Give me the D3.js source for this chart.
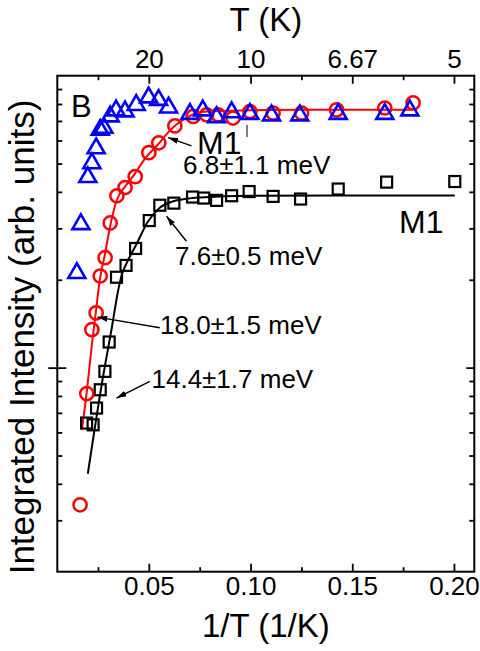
<!DOCTYPE html>
<html><head><meta charset="utf-8">
<script src="https://cdn.jsdelivr.net/npm/d3@7"></script>
<style>
html,body{margin:0;padding:0;background:#fff;}
svg text{font-family:"Liberation Sans",Arial,Helvetica,sans-serif;fill:#000;}
</style></head>
<body>
<svg id="chart" width="480" height="651"></svg>
<script>
// ---- data (x = 1/T in 1/K, y = integrated intensity, arb. units) ----
const blueX = [0.0146,0.0166,0.0200,0.0220,0.0241,0.0261,0.0279,0.0310,0.0339,0.0383,0.0438,0.0499,0.0548,0.0597,0.0702,0.0765,0.0833,0.0907,0.0997,0.1103,0.1242,0.1431,0.1660,0.1783];
const blueY = [21.5,31.6,45.8,51.1,57.5,66.5,67.6,73.9,77.5,76.9,80.9,85.9,84.2,79.3,75.4,77.5,73.5,76.4,75.4,74.5,74.5,75.4,75.4,77.5];
const redX = [0.0162,0.0195,0.0220,0.0241,0.0261,0.0285,0.0310,0.0343,0.0383,0.0433,0.0500,0.0549,0.0628,0.0718,0.0784,0.0841,0.0914,0.0997,0.1111,0.1251,0.1423,0.1660,0.1799];
const redY = [3.39,8.15,13.5,15.4,20.6,23.8,31.3,38.8,41.4,45.1,54.5,58.9,67.3,72.5,73.5,73.5,71.6,75.4,74.5,74.5,76.4,77.5,80.7];
const blackX = [0.0194,0.0226,0.0243,0.0261,0.0284,0.0305,0.0341,0.0388,0.0435,0.0502,0.0554,0.0623,0.0715,0.0770,0.0833,0.0907,0.0993,0.1111,0.1246,0.1431,0.1669,0.2004];
const blackY = [6.46,6.37,7.27,8.40,9.71,12.24,20.4,22.4,25.6,31.9,36.0,36.6,38.4,38.1,37.4,38.8,40.1,38.6,37.8,40.9,43.2,43.4];
const redFitX = [0.0171,0.0195,0.0220,0.0239,0.0259,0.0284,0.0308,0.0343,0.0382,0.0431,0.0480,0.0544,0.0593,0.0628,0.0677,0.0726,0.0800,0.0997,0.1243,0.1798];
const redFitY = [6.13,8.27,11.98,15.4,20.0,24.4,30.1,37.6,41.6,46.1,51.9,58.0,63.7,67.4,71.2,74.1,75.5,76.1,76.4,76.4];
const blackFitX = [0.0200,0.0279,0.0318,0.0348,0.0367,0.0392,0.0436,0.0495,0.0554,0.0613,0.0682,0.0751,0.0997,0.2004];
const blackFitY = [4.33,9.68,13.7,18.2,20.8,22.9,26.2,31.6,35.3,37.0,37.9,38.3,38.8,38.9];
const bottomTicks = [0.05,0.10,0.15,0.20];
const bottomLabels = ["0.05","0.10","0.15","0.20"];
const topLabels = ["20","10","6.67","5"];
const minorXTicks = [0.025,0.075,0.125,0.175];
const yMajorTicks = [10];
const yMinorTicks = [3,4,5,6,7,8,9,20,30,40,50,60,70,80,90];
// annotation arrows: [tailX, tailY, headX, headY]
const arrows = [
  [0.0710,57.5,0.0595,61.4],
  [0.0685,27.1,0.0587,33.0],
  [0.0554,13.7,0.0247,14.9],
  [0.0505,8.97,0.0341,7.87]
];

const svg = d3.select("#chart");
const L=57.3, R=474.3, T=75.7, B=571.7;
const x = d3.scaleLinear().domain([0.005,0.21]).range([L,R]);
const y = d3.scaleLog().domain([2,100]).range([B,T]);

// frame
svg.append("rect").attr("x",L).attr("y",T).attr("width",R-L).attr("height",B-T)
  .attr("fill","none").attr("stroke","#000").attr("stroke-width",2);

function styleAxis(g){ g.select(".domain").remove(); g.selectAll(".tick line").attr("stroke","#000").attr("stroke-width",1.8); g.selectAll(".tick text").attr("font-size",26).attr("fill","#000"); }

// bottom
svg.append("g").attr("transform",`translate(0,${B})`)
  .call(d3.axisBottom(x).tickValues(bottomTicks).tickSize(-8).tickPadding(5).tickFormat((d,i)=>bottomLabels[i]))
  .call(styleAxis).call(g=>g.selectAll(".tick text").attr("dy","0.71em").attr("y",5));
svg.append("g").attr("transform",`translate(0,${B})`)
  .call(d3.axisBottom(x).tickValues(minorXTicks).tickSize(-4.5).tickFormat(""))
  .call(styleAxis);
// top
svg.append("g").attr("transform",`translate(0,${T})`)
  .call(d3.axisTop(x).tickValues(bottomTicks).tickSize(-8).tickPadding(8).tickFormat((d,i)=>topLabels[i]))
  .call(styleAxis);
svg.append("g").attr("transform",`translate(0,${T})`)
  .call(d3.axisTop(x).tickValues(minorXTicks).tickSize(-4.5).tickFormat(""))
  .call(styleAxis);
// left
svg.append("g").attr("transform",`translate(${L},0)`)
  .call(d3.axisLeft(y).tickValues(yMinorTicks).tickSize(-5).tickFormat("")).call(styleAxis);
svg.append("g").attr("transform",`translate(${L},0)`)
  .call(d3.axisLeft(y).tickValues(yMajorTicks).tickSize(-9).tickFormat("")).call(styleAxis);
svg.append("g").attr("transform",`translate(${L},0)`)
  .call(d3.axisLeft(y).tickValues(yMajorTicks).tickSize(9).tickFormat("")).call(styleAxis);
// right
svg.append("g").attr("transform",`translate(${R},0)`)
  .call(d3.axisRight(y).tickValues(yMinorTicks).tickSize(-5).tickFormat("")).call(styleAxis);
svg.append("g").attr("transform",`translate(${R},0)`)
  .call(d3.axisRight(y).tickValues(yMajorTicks).tickSize(-8).tickFormat("")).call(styleAxis);

// axis titles
svg.append("text").attr("x",(L+R)/2).attr("y",31).attr("text-anchor","middle").attr("font-size",33).text("T (K)");
svg.append("text").attr("x",(L+R)/2).attr("y",637).attr("text-anchor","middle").attr("font-size",33).text("1/T (1/K)");
svg.append("text").attr("transform",`translate(33.5,337) rotate(-90)`).attr("text-anchor","middle").attr("font-size",35).text("Integrated Intensity (arb. units)");

// fit lines
const line = d3.line().x(d=>x(d[0])).y(d=>y(d[1])).curve(d3.curveMonotoneX);
svg.append("path").datum(redFitX.map((v,i)=>[v,redFitY[i]])).attr("d",line)
  .attr("fill","none").attr("stroke","#ff0000").attr("stroke-width",2);
svg.append("path").datum(blackFitX.map((v,i)=>[v,blackFitY[i]])).attr("d",line)
  .attr("fill","none").attr("stroke","#000").attr("stroke-width",2);

// markers
const sq = 11;
svg.append("g").selectAll("rect").data(blackX.map((v,i)=>[v,blackY[i]])).join("rect")
  .attr("x",d=>x(d[0])-sq/2).attr("y",d=>y(d[1])-sq/2).attr("width",sq).attr("height",sq)
  .attr("fill","none").attr("stroke","#000").attr("stroke-width",2.2);
svg.append("g").selectAll("circle").data(redX.map((v,i)=>[v,redY[i]])).join("circle")
  .attr("cx",d=>x(d[0])).attr("cy",d=>y(d[1])).attr("r",6.6)
  .attr("fill","none").attr("stroke","#ff0000").attr("stroke-width",2.5);
const ts=17, th=ts*Math.sqrt(3)/2;
svg.append("g").selectAll("path").data(blueX.map((v,i)=>[v,blueY[i]])).join("path")
  .attr("d",d=>{const cx=x(d[0]),cy=y(d[1]);return `M${cx},${cy-th/2}L${cx+ts/2},${cy+th/2}L${cx-ts/2},${cy+th/2}Z`;})
  .attr("fill","none").attr("stroke","#0000ff").attr("stroke-width",2.6).attr("stroke-linejoin","miter");

// arrows
svg.append("defs").append("marker").attr("id","ah").attr("viewBox","0 0 10 6").attr("refX",10).attr("refY",3)
  .attr("markerWidth",10).attr("markerHeight",6).attr("markerUnits","userSpaceOnUse").attr("orient","auto")
  .append("path").attr("d","M0,0L10,3L0,6Z").attr("fill","#000");
svg.append("g").selectAll("line").data(arrows).join("line")
  .attr("x1",d=>x(d[0])).attr("y1",d=>y(d[1])).attr("x2",d=>x(d[2])).attr("y2",d=>y(d[3]))
  .attr("stroke","#000").attr("stroke-width",1.4).attr("marker-end","url(#ah)");

// labels
svg.append("text").attr("x",71).attr("y",117).attr("font-size",31).text("B");
svg.append("text").attr("x",197).attr("y",154).attr("font-size",32).text("M1");
svg.append("line").attr("x1",247).attr("x2",247).attr("y1",125).attr("y2",137).attr("stroke","#000").attr("stroke-width",1);
svg.append("text").attr("x",183).attr("y",174).attr("font-size",26).text("6.8±1.1 meV");
svg.append("text").attr("x",175).attr("y",265).attr("font-size",26).text("7.6±0.5 meV");
svg.append("text").attr("x",399).attr("y",233.3).attr("font-size",32).text("M1");
svg.append("text").attr("x",160).attr("y",334).attr("font-size",26).text("18.0±1.5 meV");
svg.append("text").attr("x",151.5).attr("y",388.3).attr("font-size",26).text("14.4±1.7 meV");
</script>
</body></html>
